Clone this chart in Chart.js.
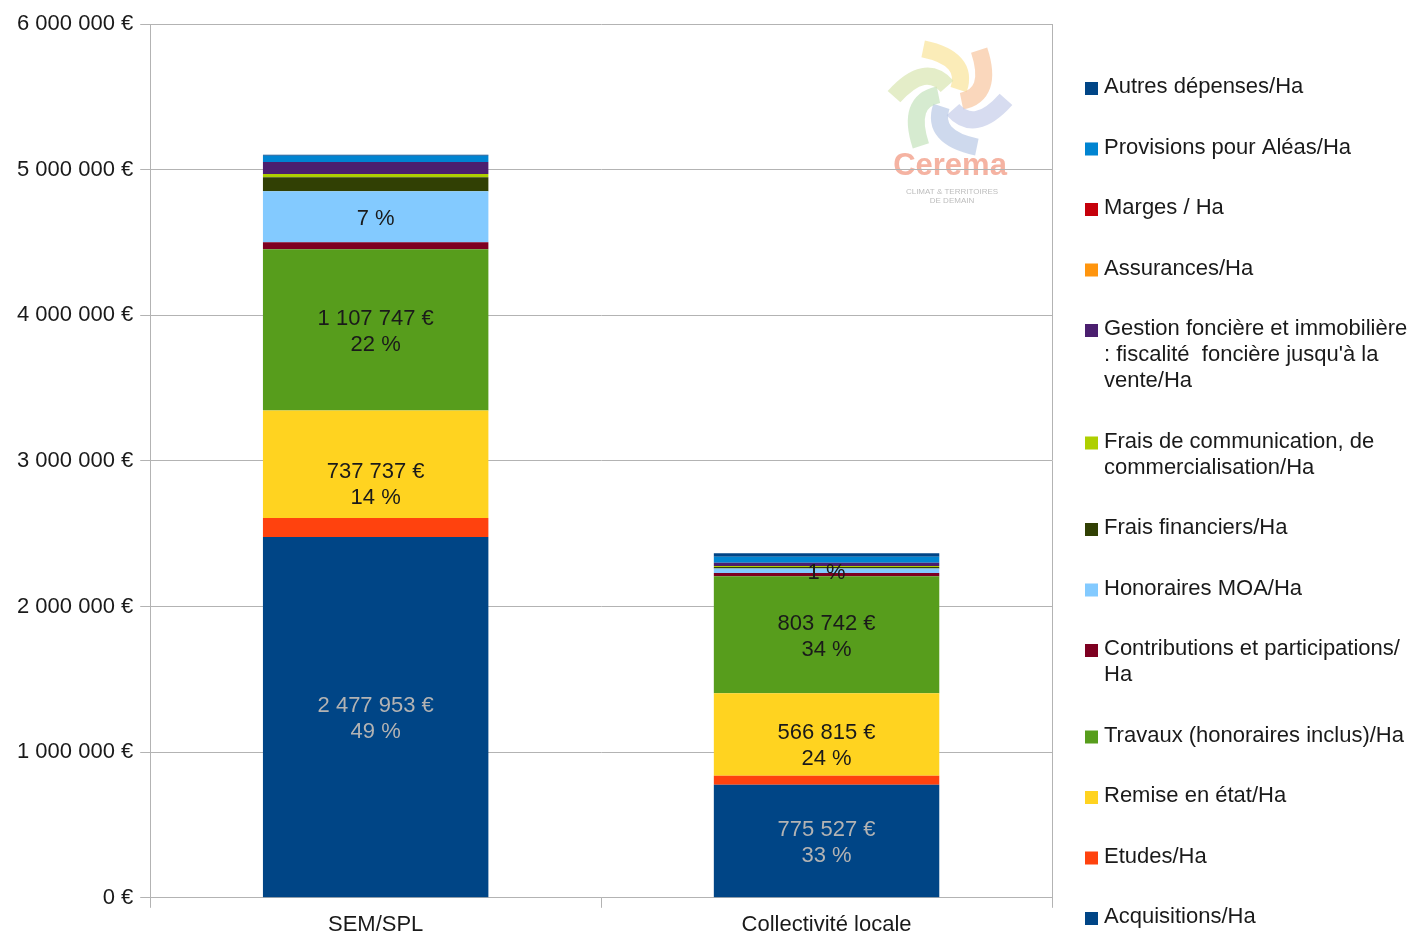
<!DOCTYPE html>
<html lang="fr">
<head>
<meta charset="UTF-8">
<title>Coûts d'aménagement par hectare</title>
<script src="https://cdn.jsdelivr.net/npm/chart.js"></script>
<style>
  html, body { margin: 0; padding: 0; background: #fff; }
  #wrap { width: 1415px; height: 935px; }
</style>
</head>
<body>
<div id="wrap"><canvas id="chart" width="1415" height="935"></canvas></div>
<script>
// --- data ---
const categories = ['SEM/SPL', 'Collectivité locale'];

const seriesNames = [
  'Acquisitions/Ha',
  'Etudes/Ha',
  'Remise en état/Ha',
  'Travaux (honoraires inclus)/Ha',
  'Contributions et participations/ Ha',
  'Honoraires MOA/Ha',
  'Frais financiers/Ha',
  'Frais de communication, de commercialisation/Ha',
  'Gestion foncière et immobilière : fiscalité  foncière jusqu\'à la vente/Ha',
  'Assurances/Ha',
  'Marges / Ha',
  'Provisions pour Aléas/Ha',
  'Autres dépenses/Ha'
];

// one value per series, same order as seriesNames
const semValues  = [2477953, 130000, 737737, 1107747, 48000, 350000, 96000, 23000, 82000, 0, 0, 43000, 7000];
const collValues = [775527, 62000, 566815, 803742, 23000, 30000, 10000, 8000, 22000, 0, 0, 40000, 25000];

const seriesColors = ['#004586', '#ff420e', '#ffd320', '#579d1c', '#7e0021', '#83caff',
                      '#314004', '#aecf00', '#4b1f6f', '#ff950e', '#c5000b', '#0084d1', '#004586'];

// which segments get a label: 'full' = amount + share, 'pct' = share only
const labelModes = ['full', null, 'full', 'full', null, 'pct', null, null, null, null, null, null, null];
// Calc drew the "Remise en état" label one segment-height lower
const labelDrop = [false, false, true, false, false, false, false, false, false, false, false, false, false];

const yMax = 6000000;
const yStep = 1000000;

const FONT = '"Liberation Sans", Arial, sans-serif';
const GRID = '#b3b3b3';

function fmt(n) {
  return String(Math.round(n)).replace(/\B(?=(\d{3})+(?!\d))/g, ' ');
}

const datasets = seriesNames.map((name, i) => ({
  label: name,
  data: [semValues[i], collValues[i]],
  backgroundColor: seriesColors[i],
  borderWidth: 0,
  barPercentage: 0.5,
  categoryPercentage: 1
}));

// faded logo in the top right corner of the plot
const logo = {
  id: 'logo',
  beforeDraw(chart) {
    const ctx = chart.ctx;
    const cx = 950, cy = 98;
    const cols = ['#f9e49a', '#f8c6a0', '#c6cde9', '#b9c9e6', '#c4e2bc', '#d8e6b0'];
    ctx.save();
    ctx.lineCap = 'butt';
    ctx.lineWidth = 17;
    ctx.globalAlpha = 0.7;
    for (let k = 0; k < 6; k++) {
      const a = -Math.PI / 2 - 0.5 + k * Math.PI / 3;
      const p = (r, t) => [cx + r * Math.cos(t), cy + r * Math.sin(t)];
      const s = p(56, a), c = p(44, a + 0.95), e = p(12, a + 1.3);
      ctx.strokeStyle = cols[k];
      ctx.beginPath();
      ctx.moveTo(s[0], s[1]);
      ctx.quadraticCurveTo(c[0], c[1], e[0], e[1]);
      ctx.stroke();
    }
    ctx.globalAlpha = 1;
    ctx.textAlign = 'center';
    ctx.textBaseline = 'middle';
    ctx.fillStyle = '#f5b3a2';
    ctx.font = '600 31px ' + FONT;
    ctx.fillText('Cerema', cx, 166);
    ctx.fillStyle = '#bdbdbd';
    ctx.font = '8px ' + FONT;
    ctx.fillText('CLIMAT & TERRITOIRES', cx + 2, 192);
    ctx.fillText('DE DEMAIN', cx + 2, 201);
    ctx.restore();
  }
};

// amount / share labels inside the segments
const barLabels = {
  id: 'barLabels',
  afterDatasetsDraw(chart) {
    const ctx = chart.ctx;
    const ds = chart.data.datasets;
    ctx.save();
    ctx.font = '22px ' + FONT;
    ctx.textAlign = 'center';
    ctx.textBaseline = 'middle';
    ds.forEach((d, di) => {
      const mode = labelModes[di];
      if (!mode) return;
      chart.getDatasetMeta(di).data.forEach((bar, i) => {
        const v = d.data[i];
        const total = ds.reduce((s, x) => s + x.data[i], 0);
        const pct = Math.round(v / total * 100) + ' %';
        let y = (bar.y + bar.base) / 2 + 2;
        if (labelDrop[di] && di > 0) {
          const below = chart.getDatasetMeta(di - 1).data[i];
          y += Math.abs(below.base - below.y);
        }
        ctx.fillStyle = di === 0 ? '#b3b3b3' : '#1a1a1a';
        if (mode === 'full') {
          ctx.fillText(fmt(v) + ' €', bar.x, y - 13);
          ctx.fillText(pct, bar.x, y + 13);
        } else {
          ctx.fillText(pct, bar.x, y);
        }
      });
    });
    ctx.restore();
  }
};

function wrap(ctx, text, maxW) {
  const words = text.split(' ');
  const lines = [];
  let line = '';
  words.forEach(w => {
    const test = line === '' ? w : line + ' ' + w;
    if (line !== '' && w !== '' && ctx.measureText(test).width > maxW) {
      lines.push(line);
      line = w;
    } else {
      line = test;
    }
  });
  lines.push(line);
  return lines;
}

// legend on the right, last series on top
const sideLegend = {
  id: 'sideLegend',
  afterDraw(chart) {
    const ctx = chart.ctx;
    const ds = chart.data.datasets;
    const x = chart.chartArea.right + 33;
    let y = 87;
    ctx.save();
    ctx.font = '22px ' + FONT;
    ctx.textAlign = 'left';
    ctx.textBaseline = 'middle';
    for (let i = ds.length - 1; i >= 0; i--) {
      const lines = wrap(ctx, ds[i].label, 312);
      ctx.fillStyle = ds[i].backgroundColor;
      ctx.fillRect(x, y - 5, 13, 13);
      ctx.fillStyle = '#1a1a1a';
      lines.forEach((ln, k) => ctx.fillText(ln, x + 19, y + k * 26));
      y += (lines.length - 1) * 26 + 60.5;
    }
    ctx.restore();
  }
};

new Chart(document.getElementById('chart'), {
  type: 'bar',
  data: { labels: categories, datasets: datasets },
  plugins: [logo, barLabels, sideLegend],
  options: {
    responsive: false,
    devicePixelRatio: 1,
    animation: false,
    layout: { padding: { left: 10, top: 24, right: 363, bottom: -7 } },
    plugins: {
      legend: { display: false },
      tooltip: { enabled: false }
    },
    scales: {
      x: {
        stacked: true,
        grid: {
          offset: true,
          color: c => c.index === 1 ? 'rgba(0,0,0,0)' : GRID,
          tickColor: GRID,
          tickLength: 10
        },
        border: { color: GRID },
        ticks: { color: '#1a1a1a', padding: 5, font: { family: FONT, size: 22, lineHeight: 1.1 } }
      },
      y: {
        stacked: true,
        min: 0,
        max: yMax,
        grid: { color: GRID, tickLength: 10 },
        border: { color: GRID },
        ticks: {
          stepSize: yStep,
          color: '#1a1a1a',
          padding: 7,
          font: { family: FONT, size: 22 },
          callback: v => fmt(v) + ' €'
        }
      }
    }
  }
});
</script>
</body>
</html>
